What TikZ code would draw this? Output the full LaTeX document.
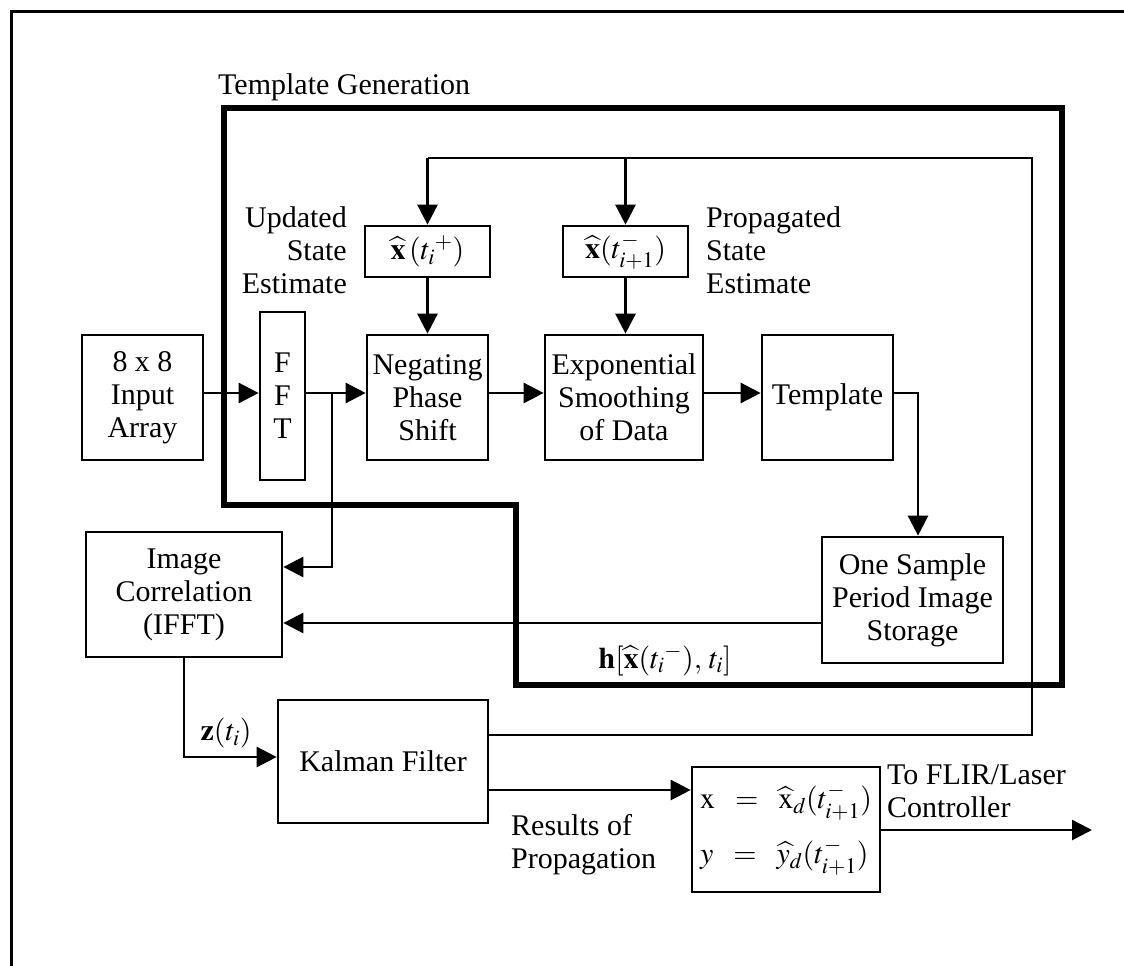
\documentclass[tikz,border=0pt]{standalone}
\usepackage{mathptmx}
\usepackage{fontspec}
\setmainfont{Liberation Serif}
\usetikzlibrary{arrows.meta}
\newcommand\diafont{\fontsize{30}{33}\selectfont}
\tikzset{
  box/.style={draw, line width=2.7pt, inner sep=0pt, align=center, font=\diafont},
  lbl/.style={inner sep=0pt, font=\diafont},
  conn/.style={line width=2.7pt},
  arr/.style={conn, -{Triangle[length=20pt,width=20pt]}},
  frame/.style={line width=6pt, line join=miter},
}
\begin{document}
\begin{tikzpicture}[x=1pt,y=-1pt]
\useasboundingbox (0,0) rectangle (1124,966);
% outer frame
\draw[line width=3pt] (1124,12) -- (11,12) -- (11,966);
% template generation frame
\draw[frame] (224,108) -- (1062,108) -- (1062,685) -- (516,685) -- (516,505) -- (224,505) -- cycle;
\node[lbl, anchor=base west] (tg) at (218,95) {Template Generation};
% blocks
\node[box, minimum width=121pt, minimum height=125pt] (inp) at (142.5,397.5) {8 x 8\\Input\\Array};
\node[box, minimum width=45pt, minimum height=168pt] (fft) at (282.5,396) {F\\F\\T};
\node[box, minimum width=121pt, minimum height=125pt] (neg) at (427.5,397.5) {Negating\\Phase\\Shift};
\node[box, minimum width=158pt, minimum height=125pt] (exps) at (624,397.5) {Exponential\\Smoothing\\of Data};
\node[box, minimum width=131pt, minimum height=125pt] (tmpl) at (827.5,397.5) {Template};
\node[box, minimum width=125pt, minimum height=51pt] (hp) at (427.5,251.5) {$\widehat{\mathbf{x}}\,(t_i{}^{+})$};
\node[box, minimum width=125pt, minimum height=51pt] (hm) at (625.5,251.5) {$\widehat{\mathbf{x}}(t^{-}_{i+1})$};
\node[box, minimum width=196pt, minimum height=125pt] (ic) at (184,594.5) {Image\\Correlation\\(IFFT)};
\node[box, minimum width=181pt, minimum height=126pt] (os) at (912.5,600) {One Sample\\Period Image\\Storage};
\node[box, minimum width=210pt, minimum height=123pt] (kf) at (383,761.5) {\raisebox{-10pt}{Kalman Filter}};
\node[box, minimum width=188pt, minimum height=125pt] (fb) at (786,829.5)
  {$\begin{array}{@{}l@{}}\mathrm{x} \;\;=\;\; \widehat{\mathrm{x}}_d(t^-_{i+1})\\[20pt] y \;\;=\;\; \widehat{y}_d(t^-_{i+1})\end{array}$};
% labels
\node[lbl, align=right, anchor=east] (use) at (347,250) {Updated\\State\\Estimate};
\node[lbl, align=left, anchor=west] (pse) at (706,250) {Propagated\\State\\Estimate};
\node[lbl] (hl) at (665,660) {$\mathbf{h}[\widehat{\mathbf{x}}(t_i{}^{-}),\, t_i]$};
\node[lbl] (zl) at (226,733) {$\mathbf{z}(t_i)$};
\node[lbl, align=left, anchor=west] (rp) at (511,845) {Results of\\Propagation};
\node[lbl, align=left, anchor=west] (tf) at (887,791) {To FLIR/Laser\\Controller};
% helper coordinates
\coordinate (ya) at (0,393);
\coordinate (br) at (332,393);
\coordinate (yb) at (0,567);
\coordinate (tc) at (918,393);
\coordinate (yc) at (0,623);
\coordinate (ye) at (0,757);
\coordinate (yf) at (0,790);
\coordinate (yg) at (0,735);
\coordinate (fr) at (1032,158);
\coordinate (out) at (1092,830);
% connectors
\draw[arr] (inp.east |- ya) -- (fft.west |- ya);
\draw[arr] (fft.east |- ya) -- (neg.west |- ya);
\draw[arr] (br) |- (ic.east |- yb);
\draw[arr] (neg.east |- ya) -- (exps.west |- ya);
\draw[arr] (exps.east |- ya) -- (tmpl.west |- ya);
\draw[arr] (tmpl.east |- ya) -| (os.north -| tc);
\draw[arr] (os.west |- yc) -- (ic.east |- yc);
\draw[arr] (ic.south) |- (kf.west |- ye);
\draw[arr] (kf.east |- yf) -- (fb.west |- yf);
\draw[conn] (kf.east |- yg) -| (fr) -- (hp.north |- fr);
\draw[arr] (hp.north |- fr) -- (hp.north);
\draw[arr] (hm.north |- fr) -- (hm.north);
\draw[arr] (hp.south) -- (neg.north);
\draw[arr] (hm.south) -- (hm.south |- exps.north);
\draw[arr] (fb.east |- out) -- (out);
\end{tikzpicture}
\end{document}
